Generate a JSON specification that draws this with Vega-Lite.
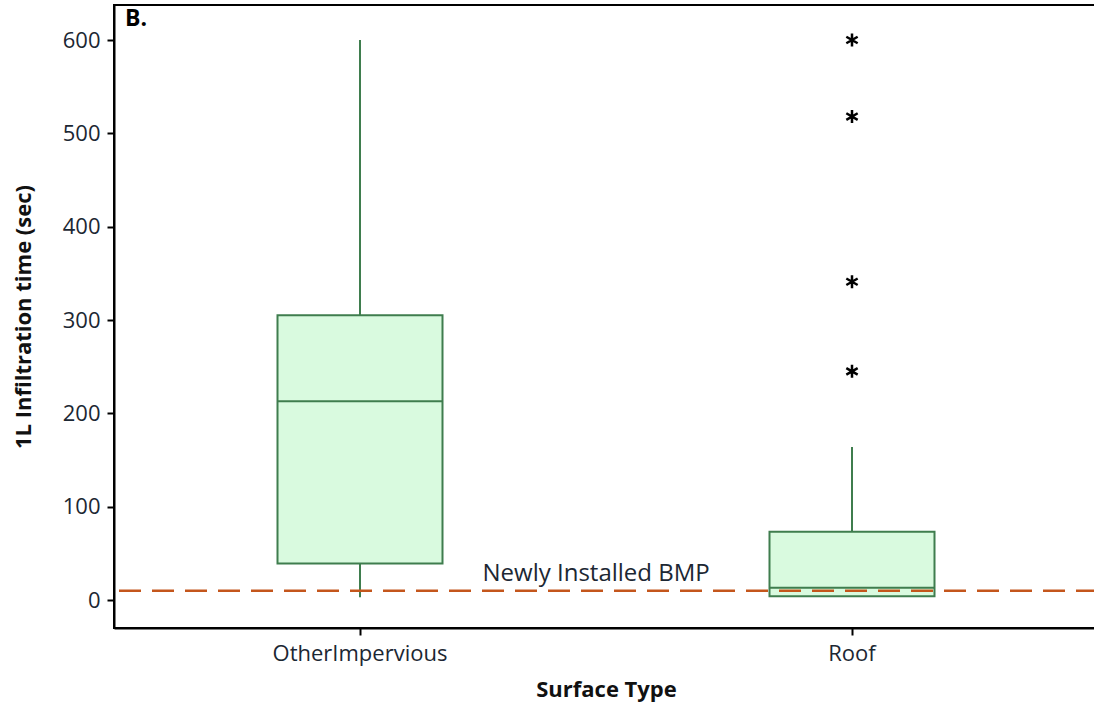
{
  "$schema": "https://vega.github.io/schema/vega-lite/v6.json",
  "width": 984,
  "height": 623,
  "autosize": {"type": "none"},
  "padding": {"left": 114, "top": 5, "right": 0, "bottom": 78},
  "background": "white",
  "config": {
    "view": {"stroke": "black", "strokeWidth": 2},
    "font": "Open Sans",
    "axis": {
      "domainColor": "black",
      "domainWidth": 2,
      "tickColor": "black",
      "tickWidth": 2,
      "tickSize": 7,
      "grid": false,
      "labelFont": "Open Sans",
      "labelFontSize": 22,
      "labelColor": "#1c2733",
      "titleFont": "Open Sans",
      "titleFontSize": 22,
      "titleFontWeight": "bold",
      "titleColor": "#111"
    }
  },
  "datasets": {
    "boxes": [
      {"surface": "OtherImpervious", "lower": 3, "q1": 39, "median": 213, "q3": 305, "upper": 600},
      {"surface": "Roof", "lower": 4, "q1": 4, "median": 13, "q3": 73, "upper": 164}
    ],
    "outliers": [
      {"surface": "Roof", "time": 600},
      {"surface": "Roof", "time": 518},
      {"surface": "Roof", "time": 341},
      {"surface": "Roof", "time": 245}
    ],
    "reference": [
      {"surface": "OtherImpervious", "time": 10, "label": "Newly Installed BMP"}
    ],
    "panel": [
      {"surface": "OtherImpervious", "time": 637, "label": "B."}
    ]
  },
  "encoding": {
    "x": {
      "field": "surface",
      "type": "nominal",
      "scale": {"type": "band", "domain": ["OtherImpervious", "Roof"], "paddingInner": 0, "paddingOuter": 0},
      "axis": {"title": "Surface Type", "labelAngle": 0, "labelPadding": 8, "titlePadding": 15}
    }
  },
  "layer": [
    {
      "data": {"name": "boxes"},
      "mark": {"type": "rule", "color": "#3f7d4e", "strokeWidth": 2},
      "encoding": {
        "y": {
          "field": "lower",
          "type": "quantitative",
          "scale": {"domain": [-30, 637.5], "nice": false, "zero": false},
          "axis": {"title": "1L Infiltration time (sec)", "values": [0, 100, 200, 300, 400, 500, 600], "labelPadding": 7, "titlePadding": 27}
        },
        "y2": {"field": "upper"}
      }
    },
    {
      "data": {"name": "boxes"},
      "mark": {"type": "bar", "size": 165, "fill": "#d9fadf", "stroke": "#3f7d4e", "strokeWidth": 2},
      "encoding": {
        "y": {"field": "q1", "type": "quantitative"},
        "y2": {"field": "q3"}
      }
    },
    {
      "data": {"name": "boxes"},
      "mark": {"type": "tick", "size": 165, "thickness": 2, "color": "#3f7d4e", "opacity": 1},
      "encoding": {
        "y": {"field": "median", "type": "quantitative"}
      }
    },
    {
      "data": {"name": "outliers"},
      "mark": {
        "type": "point",
        "shape": "M0,-1L0,1M-0.87,-0.5L0.87,0.5M-0.87,0.5L0.87,-0.5",
        "size": 170,
        "stroke": "black",
        "strokeWidth": 2.5,
        "filled": false,
        "opacity": 1
      },
      "encoding": {
        "y": {"field": "time", "type": "quantitative"}
      }
    },
    {
      "data": {"name": "reference"},
      "mark": {"type": "rule", "color": "#c4561c", "strokeWidth": 2.5, "strokeDash": [22, 11]},
      "encoding": {
        "x": null,
        "y": {"field": "time", "type": "quantitative"}
      }
    },
    {
      "data": {"name": "reference"},
      "mark": {"type": "text", "font": "Open Sans", "fontSize": 24, "color": "#1c2733", "align": "center", "baseline": "bottom", "dy": -5},
      "encoding": {
        "x": {"field": "surface", "type": "nominal", "bandPosition": 0.98},
        "y": {"field": "time", "type": "quantitative"},
        "text": {"field": "label"}
      }
    },
    {
      "data": {"name": "panel"},
      "mark": {"type": "text", "font": "Open Sans", "fontSize": 23, "fontWeight": "bold", "color": "black", "align": "left", "baseline": "top", "dx": 11, "dy": 3},
      "encoding": {
        "x": {"field": "surface", "type": "nominal", "bandPosition": 0},
        "y": {"field": "time", "type": "quantitative"},
        "text": {"field": "label"}
      }
    }
  ]
}
